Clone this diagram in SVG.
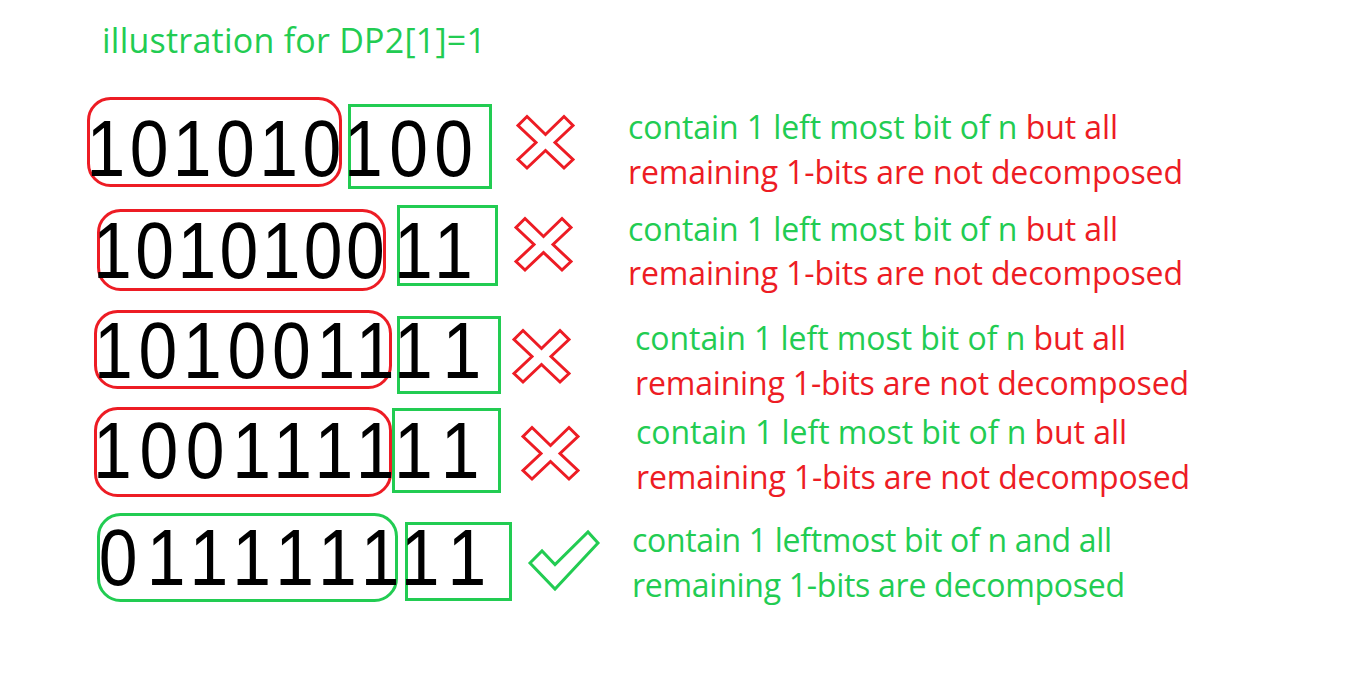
<svg xmlns="http://www.w3.org/2000/svg" width="1350" height="679" viewBox="0 0 1350 679">
<defs>
<style>
.bg{fill:#ffffff}
.red{fill:none;stroke:#ED1C24;stroke-width:3}
.grn{fill:none;stroke:#22CC52;stroke-width:3}
.dig{font-family:"Liberation Sans",Arial,sans-serif;font-size:80px;fill:#000000}
.lbl{font-family:"Open Sans","Noto Sans",sans-serif;font-size:32px}
.g{fill:#22CC52}
.r{fill:#ED1C24}
.title{font-family:"Open Sans","Noto Sans",sans-serif;font-size:34px;fill:#22CC52}
</style>
<polygon id="cross" points="10,1.5 28.5,19.5 47,1.5 56,10.5 38,27.5 56,44.5 47,53 28.5,35.5 10,53 1,44.5 19,27.5 1,10.5" fill="none" stroke="#ED1C24" stroke-width="3" stroke-linejoin="miter"/>
</defs>
<rect class="bg" x="0" y="0" width="1350" height="679"/>
<g id="title">
<text class="title" x="102" y="53" textLength="384" lengthAdjust="spacing">illustration for DP2[1]=1</text>
</g>
<g id="row1">
<rect class="red" x="88.5" y="98.5" width="252" height="87" rx="22"/>
<rect class="grn" x="349.5" y="105.5" width="141" height="82"/>
<text class="dig" transform="translate(86.4,176) scale(0.87,1)" textLength="293" lengthAdjust="spacing">101010</text>
<text class="dig" transform="translate(344.1,176) scale(0.87,1)" textLength="148.2" lengthAdjust="spacing">100</text>
<use href="#cross" x="517" y="115"/>
<text class="lbl" x="628" y="139" textLength="490" lengthAdjust="spacing"><tspan class="g">contain 1 left most bit of n </tspan><tspan class="r">but all</tspan></text>
<text class="lbl r" x="628" y="184" textLength="555" lengthAdjust="spacing">remaining 1-bits are not decomposed</text>
</g>
<g id="row2">
<rect class="red" x="98.5" y="210.5" width="286" height="79" rx="22"/>
<rect class="grn" x="398.5" y="206.5" width="98" height="78"/>
<text class="dig" transform="translate(93.1,278) scale(0.87,1)" textLength="335.2" lengthAdjust="spacing">1010100</text>
<text class="dig" transform="translate(394.1,278) scale(0.87,1)" textLength="90.5" lengthAdjust="spacing">11</text>
<use href="#cross" x="515" y="217"/>
<text class="lbl" x="628" y="241" textLength="490" lengthAdjust="spacing"><tspan class="g">contain 1 left most bit of n </tspan><tspan class="r">but all</tspan></text>
<text class="lbl r" x="628" y="285" textLength="555" lengthAdjust="spacing">remaining 1-bits are not decomposed</text>
</g>
<g id="row3">
<rect class="red" x="95.5" y="311.5" width="295" height="76" rx="22"/>
<rect class="grn" x="398.5" y="317.5" width="101" height="75"/>
<text class="dig" transform="translate(94.1,378) scale(0.87,1)" textLength="345.3" lengthAdjust="spacing">1010011</text>
<text class="dig" transform="translate(394.1,378) scale(0.87,1)" textLength="100" lengthAdjust="spacing">11</text>
<use href="#cross" x="513" y="329"/>
<text class="lbl" x="635" y="350" textLength="491" lengthAdjust="spacing"><tspan class="g">contain 1 left most bit of n </tspan><tspan class="r">but all</tspan></text>
<text class="lbl r" x="635" y="395" textLength="554" lengthAdjust="spacing">remaining 1-bits are not decomposed</text>
</g>
<g id="row4">
<rect class="red" x="95.5" y="408.5" width="295" height="87" rx="22"/>
<rect class="grn" x="393.5" y="409.5" width="106" height="82"/>
<text class="dig" transform="translate(93.1,478) scale(0.87,1)" textLength="346.4" lengthAdjust="spacing">1001111</text>
<text class="dig" transform="translate(394.1,478) scale(0.87,1)" textLength="98.2" lengthAdjust="spacing">11</text>
<use href="#cross" x="522" y="426"/>
<text class="lbl" x="636" y="444" textLength="491" lengthAdjust="spacing"><tspan class="g">contain 1 left most bit of n </tspan><tspan class="r">but all</tspan></text>
<text class="lbl r" x="636" y="489" textLength="554" lengthAdjust="spacing">remaining 1-bits are not decomposed</text>
</g>
<g id="row5">
<rect class="grn" x="98.5" y="514.5" width="298" height="86" rx="22"/>
<rect class="grn" x="406.5" y="523.5" width="104" height="76"/>
<text class="dig" transform="translate(98.8,585) scale(0.87,1)" textLength="345.6" lengthAdjust="spacing">0111111</text>
<text class="dig" transform="translate(400.7,585) scale(0.87,1)" textLength="98.2" lengthAdjust="spacing">11</text>
<polygon class="grn" points="530,563 542,551 555,564.5 588,532 598,543 555,589"/>
<text class="lbl g" x="632" y="552" textLength="480" lengthAdjust="spacing">contain 1 leftmost bit of n and all</text>
<text class="lbl g" x="632" y="597" textLength="493" lengthAdjust="spacing">remaining 1-bits are decomposed</text>
</g>
<g id="connectors"/>
</svg>
